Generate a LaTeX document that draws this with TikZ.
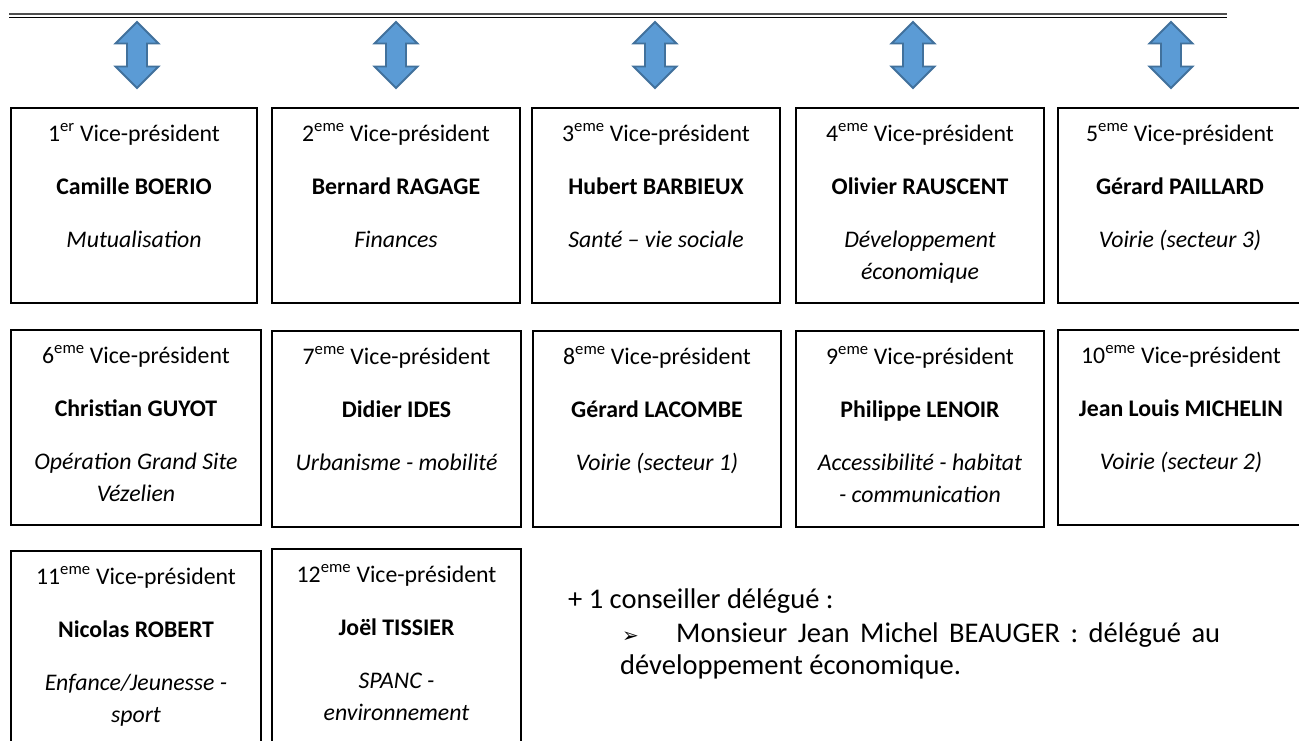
\documentclass[tikz,border=0pt]{standalone}
\usepackage{fontspec}
\setmainfont{Carlito}
\newfontfamily\dejavu{DejaVu Sans}
\usetikzlibrary{calc}
\definecolor{arrfill}{HTML}{5B9BD5}
\definecolor{arredge}{HTML}{41719C}
\definecolor{rulegrey}{HTML}{4F4F4F}
\tikzset{
  vpbox/.style={draw=black, line width=1.6pt, outer sep=0pt, inner sep=0pt, rectangle},
  lbl/.style={anchor=base, inner sep=0pt, font=\fontsize{23.8}{28}\selectfont},
  btxt/.style={anchor=base west, inner sep=0pt, font=\fontsize{28.5}{34}\selectfont},
  blockarr/.style={fill=arrfill, draw=arredge, line width=1.8pt, line join=miter},
}
% name, left, top, right, bottom, ordinal, person, desc1, desc2
\newcommand\vpnode[9]{%
  \node[vpbox, anchor=north west, minimum width={(#4-#2)*1pt}, minimum height={(#5-#3)*1pt}] (#1) at (#2,#3) {};
  \node[lbl] (#1-t) at ($(#1.north)+(0,33)$) {#6 Vice-président};
  \node[lbl, font=\fontsize{23.8}{28}\selectfont\bfseries] (#1-n) at ($(#1.north)+(0,86)$) {#7};
  \node[lbl, font=\fontsize{23.8}{28}\selectfont\itshape] (#1-d) at ($(#1.north)+(0,139)$) {#8};
  \node[lbl, font=\fontsize{23.8}{28}\selectfont\itshape] (#1-e) at ($(#1.north)+(0,171)$) {#9};
}
\begin{document}
\begin{tikzpicture}[x=1pt, y=-1pt]
\useasboundingbox (0,0) rectangle (1299,740);
\clip (0,0) rectangle (1299,740);
% title rule
\coordinate (r1a) at (9,14); \coordinate (r1b) at (1227,14);
\coordinate (r2a) at (9,17); \coordinate (r2b) at (1227,17);
\draw[rulegrey, line width=2.6pt] (r1a) -- (r1b);
\draw[black, line width=1pt] (r2a) -- (r2b);
% double block arrows
\foreach \cx in {137,396,655,913,1171}{
  \draw[blockarr] (\cx,22) -- (\cx+21.5,43.5) -- (\cx+10,43.5) -- (\cx+10,66.5) -- (\cx+21.5,66.5) -- (\cx,88) -- (\cx-21.5,66.5) -- (\cx-10,66.5) -- (\cx-10,43.5) -- (\cx-21.5,43.5) -- cycle;
}
% row 1
\vpnode{b1}{11}{108}{257}{303}{1\textsuperscript{er}}{Camille BOERIO}{Mutualisation}{}
\vpnode{b2}{272}{108}{520}{303}{2\textsuperscript{eme}}{Bernard RAGAGE}{Finances}{}
\vpnode{b3}{532}{108}{780}{303}{3\textsuperscript{eme}}{Hubert BARBIEUX}{Santé – vie sociale}{}
\vpnode{b4}{796}{108}{1044}{303}{4\textsuperscript{eme}}{Olivier RAUSCENT}{Développement}{économique}
\vpnode{b5}{1058}{108}{1302}{303}{5\textsuperscript{eme}}{Gérard PAILLARD}{Voirie (secteur 3)}{}
% row 2
\vpnode{b6}{11}{330}{261}{525}{6\textsuperscript{eme}}{Christian GUYOT}{Opération Grand Site}{Vézelien}
\vpnode{b7}{272}{331}{521}{527}{7\textsuperscript{eme}}{Didier IDES}{Urbanisme - mobilité}{}
\vpnode{b8}{533}{331}{781}{527}{8\textsuperscript{eme}}{Gérard LACOMBE}{Voirie (secteur 1)}{}
\vpnode{b9}{796}{331}{1044}{527}{9\textsuperscript{eme}}{Philippe LENOIR}{Accessibilité - habitat}{- communication}
\vpnode{b10}{1058}{330}{1304}{525}{10\textsuperscript{eme}}{Jean Louis MICHELIN}{Voirie (secteur 2)}{}
% row 3
\vpnode{b11}{11}{551}{261}{800}{11\textsuperscript{eme}}{Nicolas ROBERT}{Enfance/Jeunesse -}{sport}
\vpnode{b12}{272}{549}{521}{800}{12\textsuperscript{eme}}{Joël TISSIER}{SPANC -}{environnement}
% delegate text
\node[btxt] (c1) at (568,608) {+ 1 conseiller délégué :};
\node[btxt, font=\fontsize{20}{24}\dejavu] (c2) at (622,642) {➢};
\node[btxt] (c3) at (676,642) {\makebox[544pt][s]{Monsieur Jean Michel BEAUGER : délégué au}};
\node[btxt] (c4) at (620,674) {développement économique.};
\end{tikzpicture}
\end{document}
